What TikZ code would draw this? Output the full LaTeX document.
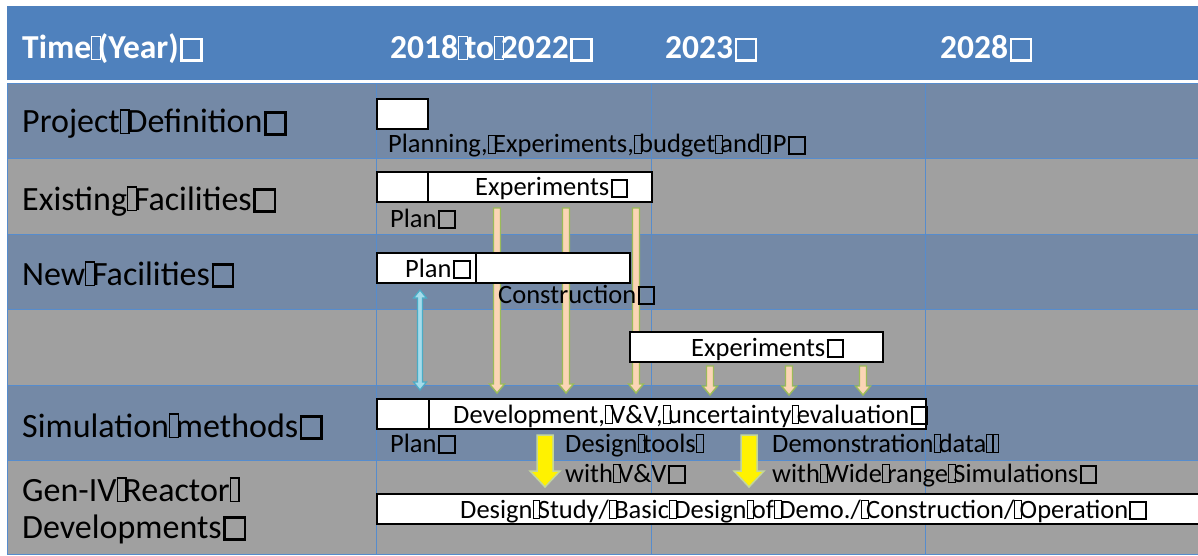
\documentclass[tikz,border=0pt]{standalone}
\usepackage{fontspec}
\setmainfont{Carlito}
\usetikzlibrary{calc}

\definecolor{hdrblue}{RGB}{79,129,189}
\definecolor{rowblue}{RGB}{116,137,166}
\definecolor{rowgray}{RGB}{160,160,160}
\definecolor{gridblue}{RGB}{86,140,205}
\definecolor{peach}{RGB}{251,213,181}
\definecolor{leaf}{RGB}{155,187,89}
\definecolor{paleleaf}{RGB}{195,214,155}
\definecolor{skyfill}{RGB}{165,220,235}
\definecolor{skyline}{RGB}{75,172,198}

\pgfdeclarelayer{table}
\pgfdeclarelayer{links}
\pgfsetlayers{table,links,main}

% narrow placeholder glyph and end-of-paragraph box glyph
\newcommand\gsp{\makebox[0.2em][l]{\fboxsep0pt\fboxrule0.035em\fbox{\rule{0pt}{0.66em}\hspace{0.22em}}}}
\newcommand\gend{\hspace{0.05em}{\fboxsep0pt\fboxrule0.075em\fbox{\rule{0pt}{0.56em}\hspace{0.52em}}}}

% downward block arrow: [style]{start}{tip}{half shaft}{half head}{head length}
\newcommand\blockdown[6][]{%
  \path[#1] let \p1=(#2), \p2=(#3) in
    (\x1-#4,\y1) -- (\x1+#4,\y1) -- (\x1+#4,\y2+#6) -- (\x1+#5,\y2+#6)
    -- (\x1,\y2) -- (\x1-#5,\y2+#6) -- (\x1-#4,\y2+#6) -- cycle;}
% double-headed vertical block arrow
\newcommand\blockboth[6][]{%
  \path[#1] let \p1=(#2), \p2=(#3) in
    (\x1,\y1) -- (\x1+#5,\y1-#6) -- (\x1+#4,\y1-#6) -- (\x1+#4,\y2+#6)
    -- (\x1+#5,\y2+#6) -- (\x1,\y2) -- (\x1-#5,\y2+#6) -- (\x1-#4,\y2+#6)
    -- (\x1-#4,\y1-#6) -- (\x1-#5,\y1-#6) -- cycle;}

\tikzset{
  hdr/.style={font=\fontsize{33.5}{40}\selectfont\bfseries, text=white, anchor=base west, inner sep=0pt},
  rowlab/.style={font=\fontsize{34}{37}\selectfont, anchor=base west, inner sep=0pt, align=left},
  small/.style={font=\fontsize{26.5}{30}\selectfont, anchor=base west, inner sep=0pt, align=left},
  bar/.style={draw=black, line width=2pt, fill=white, anchor=north west, inner sep=0pt, minimum height=30pt},
  grid/.style={draw=gridblue, line width=1pt},
  tanarr/.style={fill=peach, draw=leaf, line width=1.4pt, line join=miter},
  skyarr/.style={fill=skyfill, draw=skyline, line width=1.2pt},
  yelarr/.style={fill=yellow, draw=paleleaf, line width=1.5pt}
}

\begin{document}
\begin{tikzpicture}[x=1pt, y=-1pt]
\useasboundingbox (0,0) rectangle (1198,556);

\begin{pgfonlayer}{table}
\fill[white] (0,0) rectangle (1198,556);
% header band and row backgrounds
\fill[hdrblue] (7,6) rectangle (1198,80);
\fill[rowblue] (7,84) rectangle (1198,159);
\fill[rowgray] (7,159) rectangle (1198,234);
\fill[rowblue] (7,234) rectangle (1198,309);
\fill[rowgray] (7,309) rectangle (1198,385);
\fill[rowblue] (7,385) rectangle (1198,460);
\fill[rowgray] (7,460) rectangle (1198,554);
% table grid
\foreach \yy in {84,159,234,309,385,460,554} \draw[grid] (7,\yy) -- (1198,\yy);
\foreach \xx in {7,376,651,925} \draw[grid] (\xx,84) -- (\xx,554);
\end{pgfonlayer}

% header texts
\node[hdr] (hTime) at (22,59) {Time\gsp(Year)\gend};
\node[hdr] (hA) at (390,59) {2018\gsp to\gsp 2022\gend};
\node[hdr] (hB) at (665,59) {2023\gend};
\node[hdr] (hC) at (940,59) {2028\gend};

% row titles
\node[rowlab] (rPD) at (22,133) {Project\gsp Definition\gend};
\node[rowlab] (rEF) at (22,210) {Existing\gsp Facilities\gend};
\node[rowlab] (rNF) at (22,285) {New\gsp Facilities\gend};
\node[rowlab] (rSM) at (22,437) {Simulation\gsp methods\gend};
\node[rowlab] (rGen) at (22,538) {Gen-IV\gsp Reactor\gsp\\Developments\gend};

% arrow columns
\coordinate (cA) at (420,0);
\coordinate (cB) at (497,0);
\coordinate (cC) at (566,0);
\coordinate (cD) at (636,0);
\coordinate (cE) at (710,0);
\coordinate (cF) at (789,0);
\coordinate (cG) at (863,0);
\coordinate (cY) at (545,0);
\coordinate (cZ) at (749,0);

% schedule bars
\node[bar, minimum width=51pt] (pd) at (376,98) {};
\node[bar, minimum width=51pt] (exPlan) at (376,171) {};
\node[bar, minimum width=224pt] (exExp) at (427,171) {};
\node[bar, minimum width=99pt] (nfPlan) at (376,252) {};
\node[bar, minimum width=154pt] (nfCon) at (475,252) {};
\node[bar, minimum width=253pt] (nfExp) at (629,331) {};
\node[bar, minimum width=52pt] (smPlan) at (376,398) {};
\node[bar, minimum width=497pt] (smDev) at (428,398) {};
\node[bar, minimum width=840pt] (gen) at (376,493) {};

% arrows between bars, kept beneath them
\begin{pgfonlayer}{links}
\blockboth[skyarr]{$(nfPlan.south -| cA)+(0,6)$}{$(smPlan.north -| cA)+(0,-8)$}{2.5pt}{6.5pt}{8pt}
\blockdown[tanarr]{$(exExp.south -| cB)+(0,5)$}{$(smDev.north -| cB)+(0,-5)$}{3.5pt}{7.5pt}{9pt}
\blockdown[tanarr]{$(exExp.south -| cC)+(0,5)$}{$(smDev.north -| cC)+(0,-5)$}{3.5pt}{7.5pt}{9pt}
\blockdown[tanarr]{$(exExp.south -| cD)+(0,5)$}{$(smDev.north -| cD)+(0,-5)$}{3.5pt}{7.5pt}{9pt}
\blockdown[tanarr]{$(nfExp.south -| cE)+(0,3)$}{$(smDev.north -| cE)+(0,-3)$}{3.5pt}{7.5pt}{9pt}
\blockdown[tanarr]{$(nfExp.south -| cF)+(0,3)$}{$(smDev.north -| cF)+(0,-3)$}{3.5pt}{7.5pt}{9pt}
\blockdown[tanarr]{$(nfExp.south -| cG)+(0,3)$}{$(smDev.north -| cG)+(0,-3)$}{3.5pt}{7.5pt}{9pt}
\blockdown[yelarr]{$(smDev.south -| cY)+(0,5)$}{$(gen.north -| cY)+(0,-6)$}{8pt}{15pt}{16pt}
\blockdown[yelarr]{$(smDev.south -| cZ)+(0,5)$}{$(gen.north -| cZ)+(0,-6)$}{8pt}{15pt}{16pt}
\end{pgfonlayer}

% bar texts
\node[small] (tPD) at (388,153) {Planning,\gsp Experiments,\gsp budget\gsp and\gsp IP\gend};
\node[small] (tExA) at (475,196) {Experiments\gend};
\node[small] (tPlanA) at (390,227) {Plan\gend};
\node[small] (tPlanB) at (405,277) {Plan\gend};
\node[small] (tCon) at (498,303) {Construction\gend};
\node[small] (tExB) at (691,356) {Experiments\gend};
\node[small] (tDev) at (453,423) {Development,\gsp V\&V,\gsp uncertainty\gsp evaluation\gend};
\node[small] (tPlanC) at (390,452) {Plan\gend};
\node[small] (tTools) at (565,482) {Design\gsp tools\gsp\\with\gsp V\&V\gend};
\node[small] (tDemo) at (772,482) {Demonstration\gsp data\gsp\gsp\\with\gsp Wide\gsp range\gsp Simulations\gend};
\node[small] (tGen) at (460,518) {Design\gsp Study/\gsp Basic\gsp Design\gsp of\gsp Demo./\gsp Construction/\gsp Operation\gend};
\end{tikzpicture}
\end{document}
